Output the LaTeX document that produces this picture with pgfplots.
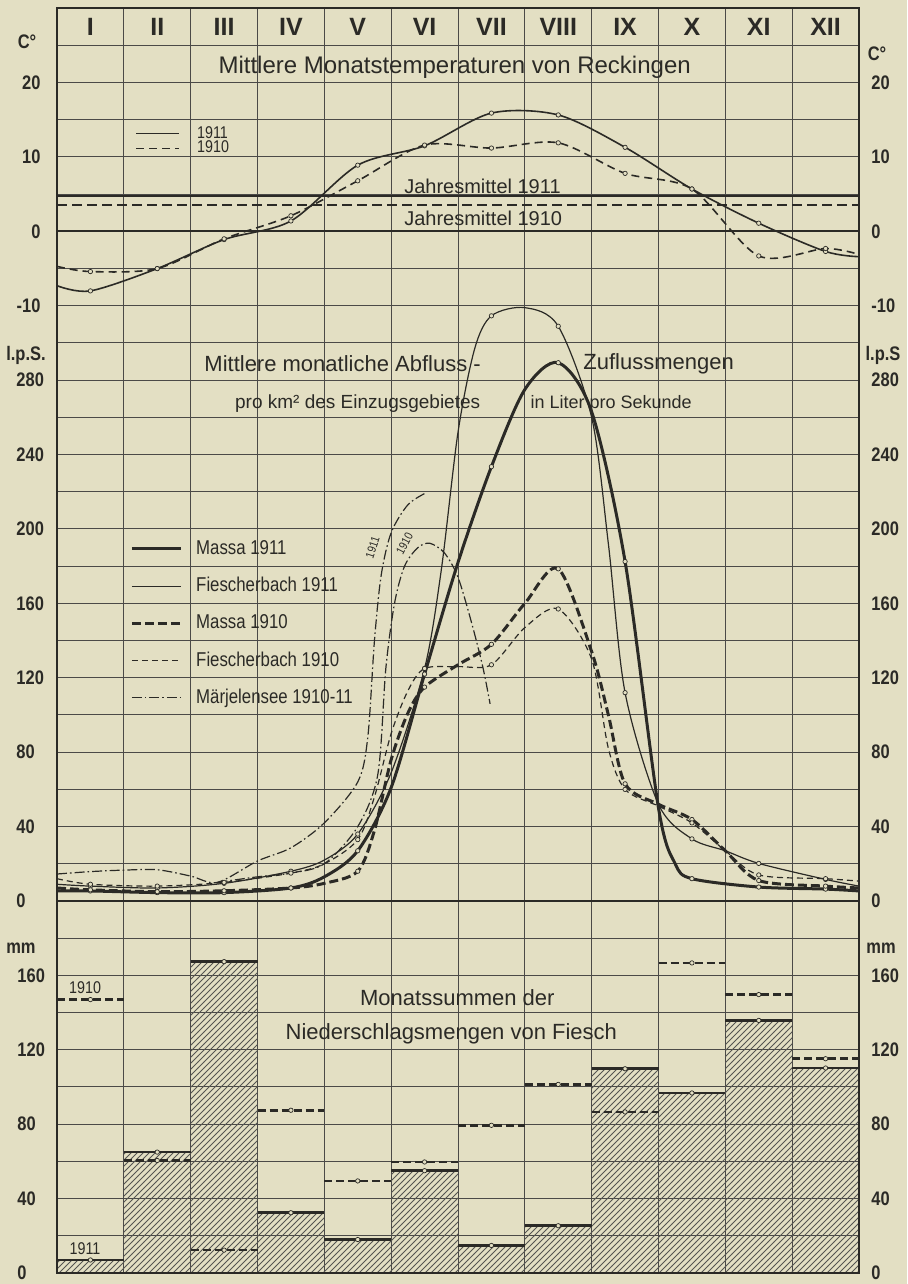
\documentclass[border=0pt]{standalone}
\usepackage{fontspec}
\setmainfont{Liberation Sans}
\newfontfamily\narrow[FakeStretch=0.84]{Liberation Sans}
\usepackage{pgfplots}
\usepackage{pgfplotstable}
\pgfplotsset{compat=1.18}
\usetikzlibrary{patterns}
\definecolor{paper}{HTML}{E3DFC3}
\definecolor{ink}{HTML}{2B2A26}

\newcommand\tickfont{\narrow\bfseries\fontsize{9.8}{10}\selectfont}
\newcommand\legfont{\narrow\fontsize{10}{11}\selectfont}
\newcommand\smallfont{\narrow\fontsize{8.5}{9}\selectfont}

% Mittlere Monatstemperaturen Reckingen (C), x = month centre, 0/12 = edges
\pgfplotstableread{
x    t11    t10
0    -7.3   -4.7
0.5  -8.0   -5.4
1.5  -5.0   -5.0
2.5  -1.1   -1.0
3.5   1.4    2.1
4.5   8.9    6.8
5.5  11.5   11.6
6.5  15.9   11.2
7.5  15.65  11.9
8.5  11.3    7.8
9.5   5.7    5.7
10.5  1.1   -3.3
11.5 -2.7   -2.3
12   -3.4   -3.1
}\temps

% Monatssummen Niederschlag Fiesch (mm), x = left edge of month
\pgfplotstableread{
x   p11    p10
0   7      147
1   65     60.5
2   167.4  12.3
3   32.4   87.5
4   18     49.5
5   55     59.7
6   14.8   79.4
7   25.4   101.4
8   109.8  86.6
9   96.8   166.7
10  135.8  149.7
11  110.2  115.2
12  110.2  115.2
}\precip

% Abfluss l/s per km2
\pgfplotstableread{
x     y
0     5.4
0.5   5.4
1.5   4.5
2.5   4.5
3.5   7
4.0   13
4.5   27
5.0   61
5.5   122
6.0   182
6.5   233.5
7.0   275
7.5   289.4
8.0   263
8.5   182.5
9.0   50
9.25  20
9.5   12
10.5  7.5
11.5  6.4
12    5.4
}\maII

\pgfplotstableread{
x     y
0     9
0.5   8
1.5   7
2.5   9.5
3.5   16
4.0   22
4.5   36
5.0   69
5.5   125
5.75  178
6.0   252
6.25  297
6.5   314.6
7.0   319
7.5   309
8.0   260
8.25  192
8.5   112
9.0   52
9.5   33.4
10.0  27
10.5  20.2
11.5  11.6
12    8
}\fiII

\pgfplotstableread{
x     y
0     7
0.5   6
1.5   5
2.5   5.5
3.5   7
4.0   9.5
4.5   16
4.75  38
5.0   76
5.25  101
5.5   115
6.0   127
6.5   138
7.0   160
7.5   178.6
8.0   134
8.25  100
8.5   63
9.0   52
9.5   43.8
10.0  27
10.5  11
11.5  8
12    7
}\maI

\pgfplotstableread{
x     y
0     12
0.5   9
1.5   8
2.5   10
3.5   15
4.0   20
4.5   33
4.75  56
5.0   90
5.25  113
5.5   125
6.0   126
6.5   127
7.0   147
7.5   157
8.0   130
8.25  82
8.5   60
9.0   51
9.5   42
10.0  27
10.5  14
11.5  12
12    10.7
}\fiI

\pgfplotstableread{
x     y
0     14.5
0.5   15.8
1.0   16.6
1.5   16.8
2.0   13.4
2.4   10
3.0   21.5
3.5   28.6
4.0   42
4.5   64
4.65  88
4.75  140
4.85  175
5.0   198
5.25  213
5.53  219.6
}\mjII

\pgfplotstableread{
x     y
2.4   10
3.0   13
3.5   15
4.0   20
4.5   40
4.8   68
4.92  125
5.05  160
5.2   180
5.4   190
5.58  192.3
5.8   187
6.0   174
6.2   150
6.37  126
6.48  106
}\mjI

\pgfplotsset{
  panel/.style={
    scale only axis, width=401pt, xmin=0, xmax=12,
    xtick={0,1,...,12}, xticklabels={,,},
    grid=both,
    major grid style={ink!85, line width=0.5pt},
    minor grid style={ink!85, line width=0.5pt},
    major tick length=0pt, minor tick length=0pt,
    axis line style={ink!85, line width=0.5pt},
    yticklabel style={font=\tickfont, text=ink},
    /pgf/number format/assume math mode=true,
  },
  rlabels/.style={
    scale only axis, width=401pt, xmin=0, xmax=12,
    hide x axis, axis y line*=right, y axis line style={draw=none},
    major tick length=0pt, minor tick length=0pt,
    yticklabel style={font=\tickfont, text=ink, anchor=west, xshift=2.7pt},
    /pgf/number format/assume math mode=true,
  },
  mk/.style={only marks, mark=*, mark size=1.1pt,
    mark options={fill=paper, draw=ink, line width=0.35pt, solid}, forget plot},
  qmk/.style={mk, x filter/.expression={abs(x-floor(x)-0.5)<0.01 ? x : nan}},
  ma11/.style={ink, line width=1.5pt, smooth},
  fi11/.style={ink, line width=0.6pt, smooth},
  ma10/.style={ink, line width=1.5pt, dash pattern=on 4.5pt off 2pt, smooth},
  fi10/.style={ink, line width=0.6pt, dash pattern=on 3pt off 2pt, smooth},
  mj/.style={ink, line width=0.6pt, dash pattern=on 5pt off 1.5pt on 0.8pt off 1.5pt, smooth},
}

\begin{document}
\begin{tikzpicture}
\fill[paper] (0,0) rectangle (453.5pt,642pt);

% ---------- Niederschlag ----------
\begin{axis}[panel, name=P, at={(28.5pt,5.5pt)}, anchor=south west,
  height=167.4pt, ymin=0, ymax=180,
  ytick={0,40,...,160}, minor ytick={20,60,...,180},
  yticklabel style={anchor=west, xshift=-23.3pt}]
\addplot[ybar interval, draw=none, pattern=north east lines, pattern color=ink!80, forget plot]
  table[x=x, y=p11] {\precip};
\addplot[jump mark left, ink, line width=1.3pt, forget plot] table[x=x, y=p11] {\precip};
\addplot[jump mark left, ink, line width=1.3pt, dash pattern=on 4pt off 2pt, forget plot]
  table[x=x, y=p10] {\precip};
\addplot[mk, restrict x to domain=0:11.9] table[x expr=\thisrow{x}+0.5, y=p11] {\precip};
\addplot[mk, restrict x to domain=0:11.9] table[x expr=\thisrow{x}+0.5, y=p10] {\precip};
\node[font=\smallfont, text=ink] at (axis cs:0.42,153.5) {1910};
\node[font=\smallfont, text=ink] at (axis cs:0.42,13) {1911};
\node[font=\fontsize{11}{12}\selectfont, text=ink] at (axis cs:5.99,148) {Monatssummen der};
\node[font=\fontsize{11}{12}\selectfont, text=ink] at (axis cs:5.90,128.8) {Niederschlagsmengen von Fiesch};
\end{axis}
\begin{axis}[rlabels, at={(28.5pt,5.5pt)}, anchor=south west,
  height=167.4pt, ymin=0, ymax=180, ytick={0,40,...,160}]
\addplot[draw=none, forget plot] coordinates {(0,0)};
\end{axis}

% ---------- Abfluss ----------
\begin{axis}[panel, name=Q, at={(28.5pt,172.9pt)}, anchor=south west,
  height=316.2pt, ymin=-20, ymax=320,
  ytick={0,40,...,280}, minor ytick={20,60,...,300},
  yticklabel style={anchor=west, xshift=-23.8pt},
  legend image code/.code={\draw[#1] (0pt,0pt) -- (24.5pt,0pt);},
  legend cell align=left,
  legend style={draw=none, fill=none, at={(axis cs:1.09,199.5)}, anchor=north west,
    inner sep=0pt, row sep=0pt,
    nodes={inner sep=0pt, minimum height=18.6pt, anchor=west, font=\legfont, text=ink},
    /tikz/every odd column/.append style={column sep=7pt}}]
\addplot[ink, line width=1.1pt, forget plot] coordinates {(0,0) (12,0)};
\addplot[ma11] table {\maII};
\addlegendentry{Massa 1911}
\addplot[fi11] table {\fiII};
\addlegendentry{Fiescherbach 1911}
\addplot[ma10] table {\maI};
\addlegendentry{Massa 1910}
\addplot[fi10] table {\fiI};
\addlegendentry{Fiescherbach 1910}
\addplot[mj] table {\mjII};
\addlegendentry{Märjelensee 1910-11}
\addplot[mj, forget plot] table {\mjI};
\addplot[qmk] table {\maII};
\addplot[qmk] table {\fiII};
\addplot[qmk] table {\maI};
\addplot[qmk] table {\fiI};
\node[inner sep=0pt, anchor=west, font=\fontsize{11}{12}\selectfont, text=ink] at (axis cs:2.20,288.9) {Mittlere monatliche Abfluss -};
\node[inner sep=0pt, anchor=west, font=\fontsize{11}{12}\selectfont, text=ink] at (axis cs:7.87,288.9) {Zuflussmengen};
\node[inner sep=0pt, anchor=west, font=\fontsize{9.5}{10}\selectfont, text=ink] at (axis cs:2.66,267.4) {pro km² des Einzugsgebietes};
\node[inner sep=0pt, anchor=west, font=\fontsize{9}{10}\selectfont, text=ink] at (axis cs:7.08,267.4) {in Liter pro Sekunde};
\node[inner sep=0pt, rotate=72, font=\narrow\fontsize{6}{6}\selectfont, text=ink] at (axis cs:4.72,190) {1911};
\node[inner sep=0pt, rotate=62, font=\narrow\fontsize{6}{6}\selectfont, text=ink] at (axis cs:5.2,192) {1910};
\end{axis}
\begin{axis}[rlabels, at={(28.5pt,172.9pt)}, anchor=south west,
  height=316.2pt, ymin=-20, ymax=320, ytick={0,40,...,280}]
\addplot[draw=none, forget plot] coordinates {(0,0)};
\end{axis}

% ---------- Temperatur ----------
\begin{axis}[panel, name=T, at={(28.5pt,489.1pt)}, anchor=south west,
  height=148.8pt, ymin=-10, ymax=30,
  ytick={-10,0,10,20}, yticklabels={-10,0,10,20}, minor ytick={-5,5,15,25},
  yticklabel style={anchor=east, xshift=-4.7pt},
  legend image code/.code={\draw[#1] (0pt,0pt) -- (21.5pt,0pt);},
  legend cell align=left,
  legend style={draw=none, fill=none, at={(axis cs:1.17,14.2)}, anchor=north west,
    inner sep=0pt, row sep=0pt,
    nodes={inner sep=0pt, minimum height=7.45pt, anchor=west, font=\smallfont, text=ink},
    /tikz/every odd column/.append style={column sep=8.5pt}}]
\addplot[ink, line width=0.9pt, forget plot] coordinates {(0,0) (12,0)};
\addplot[ink, line width=1pt, forget plot] coordinates {(0,4.7) (12,4.7)};
\addplot[ink, line width=1pt, dash pattern=on 5pt off 2.5pt, forget plot] coordinates {(0,3.5) (12,3.5)};
\addplot[ink, line width=0.8pt, smooth] table[x=x, y=t11] {\temps};
\addlegendentry{1911}
\addplot[ink, line width=0.8pt, dash pattern=on 4pt off 2.5pt, smooth] table[x=x, y=t10] {\temps};
\addlegendentry{1910}
\addplot[mk, restrict x to domain=0.2:11.8] table[x=x, y=t11] {\temps};
\addplot[mk, restrict x to domain=0.2:11.8] table[x=x, y=t10] {\temps};
\node[font=\fontsize{12}{14}\selectfont, text=ink] at (axis cs:5.95,22.1) {Mittlere Monatstemperaturen von Reckingen};
\node[inner sep=0pt, anchor=west, font=\fontsize{10}{11}\selectfont, text=ink] at (axis cs:5.19,6.0) {Jahresmittel 1911};
\node[inner sep=0pt, anchor=west, font=\fontsize{10}{11}\selectfont, text=ink] at (axis cs:5.19,1.7) {Jahresmittel 1910};
\foreach \m/\lab in {0.5/I,1.5/II,2.5/III,3.5/IV,4.5/V,5.5/VI,6.5/VII,7.5/VIII,8.5/IX,9.5/X,10.5/XI,11.5/XII}{
  \edef\temp{\noexpand\node[font=\noexpand\bfseries\noexpand\fontsize{12.5}{13}\noexpand\selectfont, text=ink] at (axis cs:\m,27.5) {\lab};}
  \temp
}
\end{axis}
\begin{axis}[rlabels, at={(28.5pt,489.1pt)}, anchor=south west,
  height=148.8pt, ymin=-10, ymax=30, ytick={-10,0,10,20}, yticklabels={-10,0,10,20}]
\addplot[draw=none, forget plot] coordinates {(0,0)};
\end{axis}

% outer frame and unit labels
\draw[ink, line width=1pt] (T.north west) rectangle (P.south east);
\node[font=\tickfont, text=ink] at (13.5pt,621pt) {C°};
\node[font=\tickfont, text=ink] at (438.5pt,615pt) {C°};
\node[font=\tickfont, text=ink] at (13pt,464.5pt) {l.p.S.};
\node[font=\tickfont, text=ink] at (441.5pt,464.5pt) {l.p.S};
\node[font=\tickfont, text=ink] at (10.5pt,168pt) {mm};
\node[font=\tickfont, text=ink] at (440.5pt,168pt) {mm};
\pgfresetboundingbox
\path[use as bounding box] (0,0) rectangle (453.5pt,642pt);
\end{tikzpicture}
\end{document}
